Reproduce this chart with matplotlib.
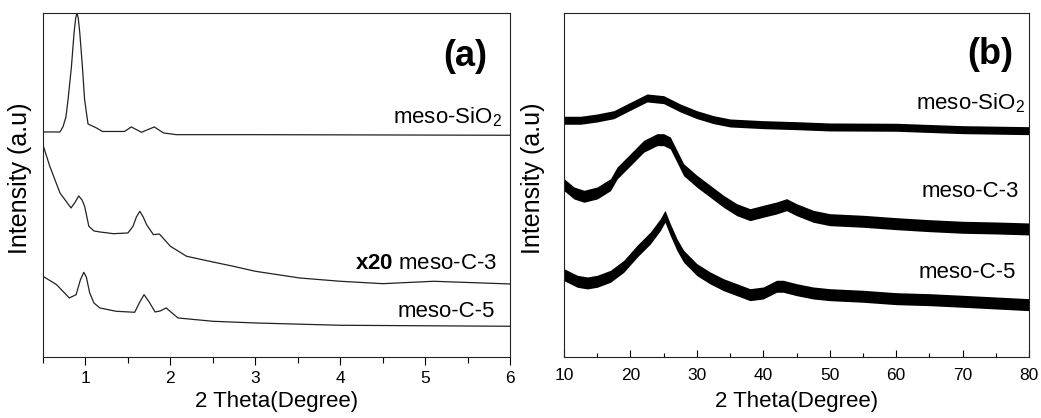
import numpy as np
import matplotlib.pyplot as plt
from matplotlib.ticker import MultipleLocator

plt.rcParams["font.family"] = ["Liberation Sans", "DejaVu Sans"]
plt.rcParams["mathtext.fontset"] = "custom"
plt.rcParams["mathtext.rm"] = "Liberation Sans"
plt.rcParams["mathtext.it"] = "Liberation Sans"
plt.rcParams["mathtext.bf"] = "Liberation Sans:bold"
plt.rcParams["xtick.labelsize"] = 12.5

# -------------------------------------------
# --- 1. SMALL-ANGLE XRD (panel a) VALUES ---
# -------------------------------------------
sio2_a_theta = [0.5, 0.7, 0.736, 0.77, 0.795, 0.835, 0.866, 0.885, 0.9, 0.915, 0.933,
                0.964, 0.99, 1.03, 1.13, 1.2, 1.46, 1.54, 1.66, 1.81, 1.92, 2.07, 3.0, 6.0]
sio2_a_int = [225, 225, 230.3, 240, 257.3, 290.3, 324.3, 339, 344, 339, 324.3,
              290.3, 257.3, 233, 229, 225.5, 225.5, 230, 224.7, 230, 224, 222.3, 222.3, 221.7]

c3_a_theta = [0.5, 0.58, 0.7, 0.83, 0.88, 0.92, 0.96, 0.99, 1.04, 1.1, 1.17, 1.33, 1.5,
              1.56, 1.6, 1.64, 1.68, 1.72, 1.8, 1.87, 2.0, 2.19, 2.5, 2.74, 3.0, 3.52,
              4.0, 4.5, 5.1, 6.0]
c3_a_int = [212, 190.7, 164, 149, 155, 161, 157, 150.7, 130.7, 126, 125, 123.3, 124,
            130.7, 140, 145.7, 140, 132.3, 122.3, 123, 110.7, 100.7, 95, 90.7, 85.7, 79,
            75.7, 73.3, 75.7, 73]

c5_a_theta = [0.5, 0.66, 0.81, 0.89, 0.94, 0.98, 1.01, 1.05, 1.1, 1.17, 1.36, 1.58,
              1.64, 1.69, 1.75, 1.82, 1.88, 1.95, 2.02, 2.09, 2.5, 3.0, 4.0, 6.0]
c5_a_int = [80.7, 72.3, 59, 62.3, 77, 84.7, 80, 64, 54, 49, 45.7, 44.7,
            55, 62.3, 55, 45, 46, 49, 44, 39, 35.7, 34, 31.7, 30.7]

# -------------------------------------------
# --- 2. WIDE-ANGLE XRD (panel b) VALUES ----
# -------------------------------------------
sio2_b_theta = [10, 12.5, 15, 17.5, 20, 22.5, 25, 27.5, 30, 32.5, 35, 40, 45, 50, 60, 70, 80]
sio2_b_int = [236.7, 236.7, 239, 242.3, 250.7, 259, 257.3, 249, 242.3, 237.3, 234, 232.3,
              231.3, 230, 229.7, 227.3, 226.3]

c3_b_theta = [10, 11.5, 13, 15, 17, 18, 20, 22, 24, 25, 26, 27, 28, 30, 32, 34, 36, 38,
              40, 42, 43.5, 45, 47.5, 50, 55, 60, 65, 70, 75, 80]
c3_b_int = [172.3, 164, 160.7, 164, 172.3, 184, 197.3, 210.7, 217.3, 217.3, 214, 200.7,
            187.3, 175.7, 165.7, 155.7, 147.3, 142.3, 145.7, 149, 152.3, 147.3, 140.7,
            137.3, 135.7, 133.3, 131.3, 129.7, 129, 128]

c5_b_theta = [10, 12, 13.5, 15, 17, 19, 21, 23, 24.5, 25.2, 26, 27, 28, 30, 32, 34, 36,
              38, 40, 42, 43, 45, 47.5, 50, 55, 60, 65, 70, 75, 80]
c5_b_int = [82.3, 75.7, 74, 75.7, 80.7, 90.7, 105.7, 119, 132.3, 140.7, 127.3, 112.3,
            100.7, 87.3, 79, 72.3, 67.3, 62.3, 64, 70.7, 70.7, 67.3, 64, 62.3, 60.7,
            58.3, 57.3, 55.7, 54, 52.3]

# noise band half-width of each wide-angle pattern
noise_b = [4.0, 6.0, 6.0]

fig = plt.figure(figsize=(10.41, 4.18), dpi=100)
ax_a = fig.add_axes([0.0413, 0.146, 0.4487, 0.823])
ax_b = fig.add_axes([0.5418, 0.146, 0.4467, 0.823])

# --- panel (a) ---
for th, inten in [(sio2_a_theta, sio2_a_int), (c3_a_theta, c3_a_int), (c5_a_theta, c5_a_int)]:
  ax_a.plot(th, inten, color="#222222", lw=0.9)
ax_a.set_xlim(0.5, 6)
ax_a.xaxis.set_major_locator(MultipleLocator(1))
ax_a.xaxis.set_minor_locator(MultipleLocator(0.5))
ax_a.tick_params(axis="x", which="major", direction="out", length=6, width=0.8, pad=4)
ax_a.tick_params(axis="x", which="minor", direction="out", length=4, width=0.8)

# --- panel (b) ---
for (th, inten), nz in zip([(sio2_b_theta, sio2_b_int), (c3_b_theta, c3_b_int), (c5_b_theta, c5_b_int)], noise_b):
  th = np.asarray(th)
  inten = np.asarray(inten)
  ax_b.fill_between(th, inten - nz, inten + nz, color="black", lw=0)
  ax_b.plot(th, inten, color="black", lw=1.2)
ax_b.set_xlim(10, 80)
ax_b.xaxis.set_major_locator(MultipleLocator(10))
ax_b.xaxis.set_minor_locator(MultipleLocator(5))
ax_b.tick_params(axis="x", which="major", direction="in", length=5, width=0.8, pad=8)
ax_b.tick_params(axis="x", which="minor", direction="in", length=3, width=0.8)

for ax in (ax_a, ax_b):
  ax.set_ylim(0, 344)
  ax.set_yticks([])
  ax.set_xlabel("2 Theta(Degree)", fontsize=16)
  ax.set_ylabel("Intensity (a.u)", fontsize=18)
  for sp in ax.spines.values():
    sp.set_linewidth(0.8)
    sp.set_color("#222222")

ax_a.xaxis.set_label_coords(0.5, -0.10)
ax_b.xaxis.set_label_coords(0.5, -0.10)
ax_a.yaxis.set_label_coords(-0.024, 0.52)
ax_b.yaxis.set_label_coords(-0.041, 0.52)

# labels in axes-fraction coords
label_kw = dict(ha="right", va="center", fontsize=16)
ax_a.text(0.983, 0.698, "meso-SiO$_2$", transform=ax_a.transAxes, **label_kw)
ax_a.text(0.972, 0.273, r"$\mathbf{x20}$ meso-C-3", transform=ax_a.transAxes, **label_kw)
ax_a.text(0.968, 0.131, "meso-C-5", transform=ax_a.transAxes, **label_kw)
ax_a.text(0.951, 0.872, "(a)", transform=ax_a.transAxes, ha="right", va="center",
          fontsize=26, fontweight="bold")

ax_b.text(0.991, 0.738, "meso-SiO$_2$", transform=ax_b.transAxes, **label_kw)
ax_b.text(0.978, 0.48, "meso-C-3", transform=ax_b.transAxes, **label_kw)
ax_b.text(0.972, 0.247, "meso-C-5", transform=ax_b.transAxes, **label_kw)
ax_b.text(0.966, 0.878, "(b)", transform=ax_b.transAxes, ha="right", va="center",
          fontsize=26, fontweight="bold")

fig.savefig("out.png", dpi=100)
